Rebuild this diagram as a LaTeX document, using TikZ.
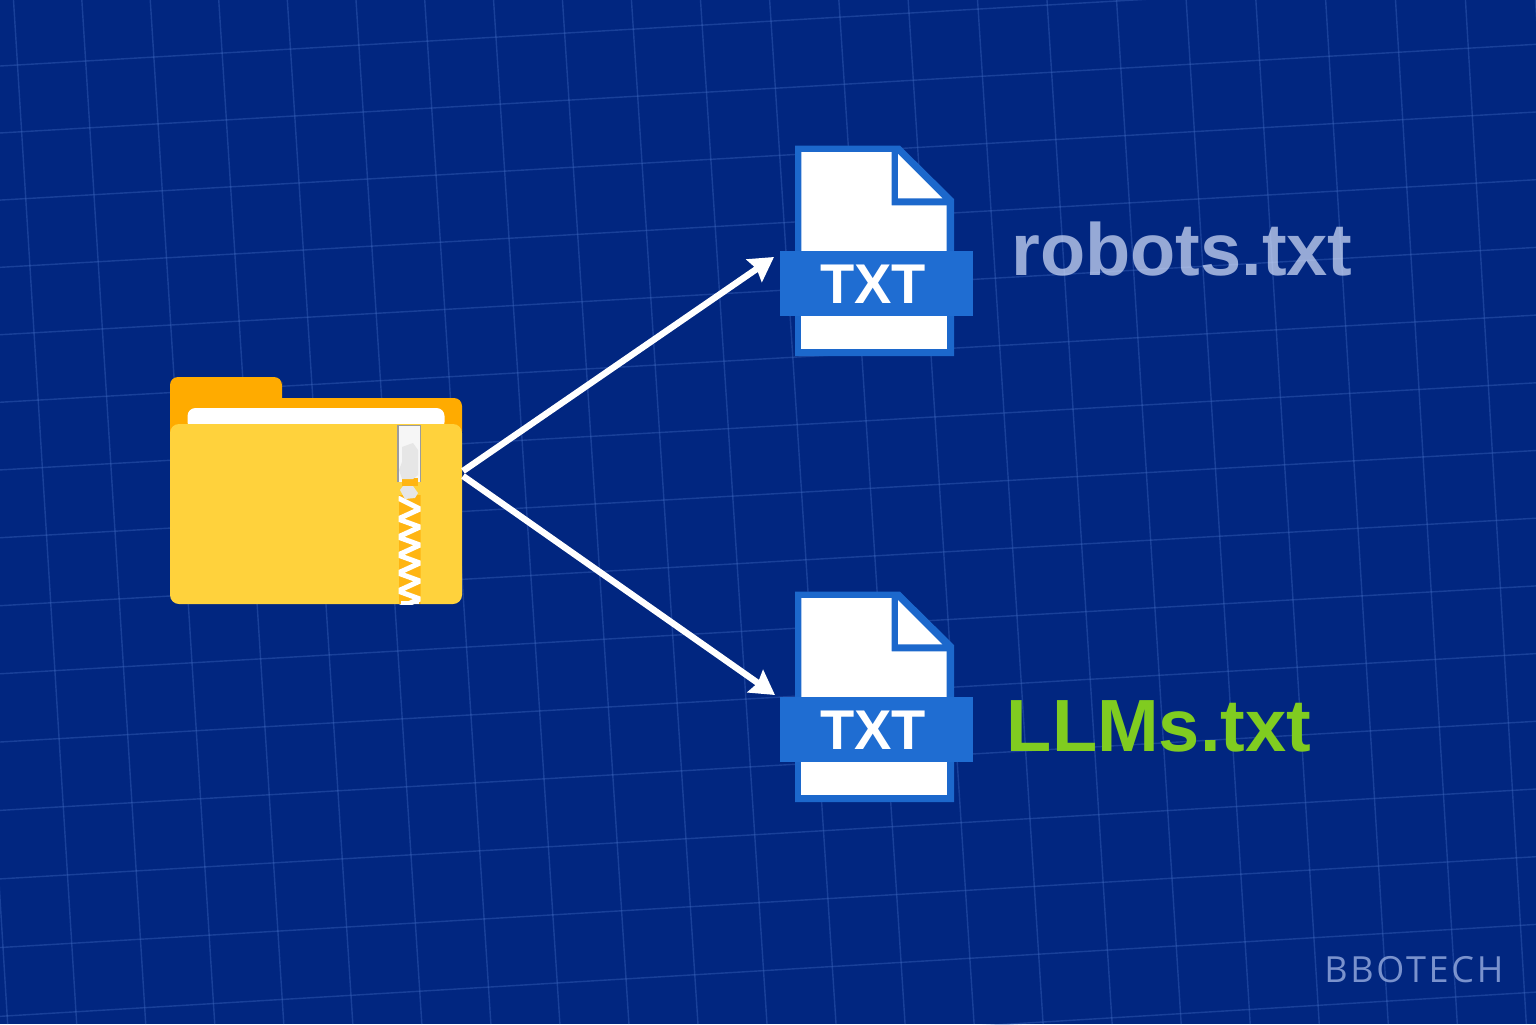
\documentclass[tikz,border=0pt]{standalone}
\usepackage{fontspec}
\setmainfont{Liberation Sans}
\newfontfamily\markfont[LetterSpace=7.5]{Open Sans}
\usetikzlibrary{arrows.meta}
\definecolor{bgblue}{HTML}{012680}
\definecolor{gridblue}{HTML}{4670C8}
\definecolor{iconblue}{HTML}{1C68CC}
\definecolor{bandblue}{HTML}{1F6DD2}
\definecolor{tabamber}{HTML}{FFAB00}
\definecolor{foldyellow}{HTML}{FFD23C}
\definecolor{zipamber}{HTML}{FFB512}
\definecolor{zipgrey}{HTML}{9C9C9C}
\definecolor{zippale}{HTML}{E6E6E6}
\definecolor{robotgrey}{HTML}{D0DCF8}
\definecolor{llmgreen}{HTML}{80CC20}
\definecolor{markgrey}{HTML}{A9BDEB}
\tikzset{
  gridline/.style={draw=gridblue,line width=.7pt,opacity=.36},
  iconwhite/.style={fill=white,draw=none},
  flowarrow/.style={draw=white,line width=3.2pt,-{Stealth[length=12pt,width=13.5pt,inset=1.5pt]}},
  bigname/.style={font=\bfseries\fontsize{37}{37}\selectfont,anchor=base west,inner sep=0pt},
  tagtext/.style={font=\bfseries\fontsize{28}{28}\selectfont,text=white,inner sep=0pt},
  bandbox/.style={fill=bandblue,draw=none,minimum width=96.4pt,minimum height=32.7pt,inner sep=0pt},
  frontbox/.style={fill=foldyellow,draw=none,minimum width=146pt,minimum height=90pt,rounded corners=4.5pt,inner sep=0pt}
}
\begin{document}
\begin{tikzpicture}[x=.5pt,y=-.5pt]
\useasboundingbox (0,0) rectangle (1536,1024);
\fill[bgblue] (0,0) rectangle (1536,1024);
\begin{scope}
\clip (0,0) rectangle (1536,1024);
\foreach \i in {-1,...,22}{
  \pgfmathsetmacro\xt{13.5+68.3*\i+0.04*\i*\i}
  \pgfmathsetmacro\xb{76.7+69.03*\i}
  \draw[gridline] (\xt,0) -- (\xb,1024);
}
\foreach \j in {-1,...,16}{
  \pgfmathsetmacro\yl{66+66.9*\j+0.07*\j*\j}
  \pgfmathsetmacro\yr{-23.4+67.7*\j}
  \draw[gridline] (0,\yl) -- (1536,\yr);
}
\end{scope}
% folder
\fill[tabamber,rounded corners=4pt] (170,440) -- (170,377) -- (282,377) -- (282,390) [sharp corners] -- (282,398) -- (300,398) [rounded corners=4pt] -- (462,398) -- (462,440) -- cycle;
\fill[white,rounded corners=4pt] (187.5,430) -- (187.5,408) -- (444.5,408) -- (444.5,430) -- cycle;
\node[frontbox] (folder) at (316,514) {};
% zipper
\begin{scope}
\clip (398.5,495) rectangle (420.5,604);
\fill[zipamber] (398.5,495) rectangle (420.5,604);
\draw[white,line width=2.5pt,line join=miter]
  (398,498) -- (420,509) -- (398,519) -- (420,527) -- (398,537) -- (420,545) -- (398,555) -- (420,563) -- (398,573) -- (420,581) -- (398,591) -- (420,599) -- (398,608);
\end{scope}
\fill[white] (401,601) rectangle (419,604);
\fill[zippale!35!white] (398,425.5) rectangle (421,482);
\draw[zipgrey,line width=.9pt] (398,482) -- (398,425.5) -- (420.5,425.5) -- (420.5,482);
\fill[zipamber] (402,478) rectangle (418,486);
\fill[zippale] (402,447) -- (413,443) -- (418,450) -- (418,475) -- (413,479) -- (402,479) -- (399,470) -- (402,462) -- cycle;
\fill[zippale] (400,490) -- (403,486) -- (413,486) -- (418,493) -- (415,498) -- (405,499) -- cycle;
% file icons
\foreach \n/\dy in {A/0,B/446}{
  \begin{scope}[shift={(0,\dy)}]
    \fill[iconblue] (795,145.7) -- (900,145.7) -- (954,199) -- (954,356) -- (795,356) -- cycle;
    \fill[iconwhite] (801.3,152) -- (891.7,152) -- (891.7,205.3) -- (946.7,205.3) -- (946.7,255) -- (801.3,255) -- cycle;
    \fill[iconwhite] (898,154) -- (942.3,198.3) -- (898,198.3) -- cycle;
    \fill[iconwhite] (801.3,310) rectangle (946.7,349.3);
    \node[bandbox] (file\n) at (876.35,283.35) {};
    \node[tagtext] (tag\n) at (872.9,283.8) {TXT};
  \end{scope}
}
% arrows
\coordinate (srcA) at (463,471);
\coordinate (srcB) at (463,476);
\coordinate (tipA) at (774,257);
\coordinate (tipB) at (775,695);
\draw[flowarrow] (srcA) -- (tipA);
\draw[flowarrow] (srcB) -- (tipB);
% labels
\node[bigname,text=robotgrey,text opacity=.72] (robots) at (1011,275) {robots.txt};
\node[bigname,text=llmgreen] (llms) at (1006.5,751) {LLMs.txt};
\node[font=\markfont\fontsize{18}{18}\selectfont,text=markgrey,text opacity=.72,anchor=base west,inner sep=0pt] (mark) at (1324,982.3) {BBOTECH};
\end{tikzpicture}
\end{document}
